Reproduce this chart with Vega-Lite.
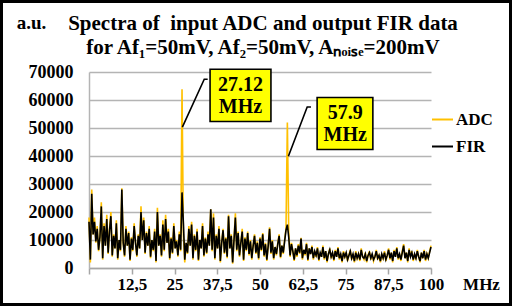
{
  "width": 512,
  "height": 306,
  "autosize": "none",
  "padding": 0,
  "background": "white",
  "config": {
    "view": {"stroke": "black", "strokeWidth": 6},
    "font": "Liberation Serif"
  },
  "title": {
    "text": "Spectra of \u00a0input ADC and output FIR data",
    "subtitle": "for Af₁=50mV, Af₂=50mV, Aₙₒᵢₛₑ=200mV",
    "font": "Liberation Serif", "fontSize": 21, "fontWeight": "bold", "color": "black",
    "subtitleFont": "Liberation Serif", "subtitleFontSize": 21, "subtitleFontWeight": "bold", "subtitleColor": "black",
    "subtitlePadding": 3, "anchor": "middle", "frame": "group", "offset": -58, "dx": 7
  },
  "datasets": {
    "spec": [
      {"f":0,"adc":18000,"fir":16500},{"f":0.4,"adc":2000,"fir":3000},{"f":0.8,"adc":28000,"fir":26500},{"f":1.2,"adc":12000,"fir":12000},{"f":1.6,"adc":18000,"fir":16500},
      {"f":2.0,"adc":9000,"fir":9500},{"f":2.4,"adc":15000,"fir":14000},{"f":2.8,"adc":6000,"fir":6500},{"f":3.2,"adc":11000,"fir":11000},{"f":3.6,"adc":23500,"fir":22000},
      {"f":4.0,"adc":3000,"fir":3500},{"f":4.4,"adc":16000,"fir":15000},{"f":4.8,"adc":8000,"fir":8000},{"f":5.2,"adc":19000,"fir":17500},{"f":5.6,"adc":5000,"fir":5500},
      {"f":6.0,"adc":14000,"fir":13500},{"f":6.4,"adc":20000,"fir":18500},{"f":6.8,"adc":4000,"fir":4500},{"f":7.2,"adc":12000,"fir":11500},{"f":7.6,"adc":7000,"fir":7000},
      {"f":8.0,"adc":17000,"fir":16000},{"f":8.4,"adc":3000,"fir":3500},{"f":8.8,"adc":10000,"fir":10000},{"f":9.2,"adc":6000,"fir":6500},{"f":9.6,"adc":28500,"fir":28000},
      {"f":10.0,"adc":9000,"fir":9000},{"f":10.4,"adc":4000,"fir":4500},{"f":10.8,"adc":15000,"fir":14000},{"f":11.2,"adc":8000,"fir":8000},{"f":11.6,"adc":13000,"fir":12500},
      {"f":12.0,"adc":2500,"fir":3000},{"f":12.4,"adc":11000,"fir":10500},{"f":12.8,"adc":6000,"fir":6500},{"f":13.2,"adc":16000,"fir":15000},{"f":13.6,"adc":9000,"fir":9000},
      {"f":14.0,"adc":4000,"fir":4500},{"f":14.4,"adc":12000,"fir":11500},{"f":14.8,"adc":7000,"fir":7000},{"f":15.2,"adc":22000,"fir":20000},{"f":15.6,"adc":10000,"fir":10000},
      {"f":16.0,"adc":18000,"fir":17000},{"f":16.4,"adc":5000,"fir":5500},{"f":16.8,"adc":13000,"fir":12500},{"f":17.2,"adc":8000,"fir":8000},{"f":17.6,"adc":15000,"fir":14000},
      {"f":18.0,"adc":3500,"fir":4000},{"f":18.4,"adc":10000,"fir":10000},{"f":18.8,"adc":6000,"fir":6500},{"f":19.2,"adc":14000,"fir":13000},{"f":19.6,"adc":2000,"fir":2500},
      {"f":20.0,"adc":21500,"fir":20000},{"f":20.4,"adc":8000,"fir":8000},{"f":20.8,"adc":12000,"fir":11500},{"f":21.2,"adc":4000,"fir":4500},{"f":21.6,"adc":17000,"fir":15500},
      {"f":22.0,"adc":6000,"fir":6500},{"f":22.4,"adc":19000,"fir":17500},{"f":22.8,"adc":9000,"fir":9000},{"f":23.2,"adc":14000,"fir":13000},{"f":23.6,"adc":3000,"fir":3500},
      {"f":24.0,"adc":11000,"fir":10500},{"f":24.4,"adc":5000,"fir":5500},{"f":24.8,"adc":16000,"fir":15000},{"f":25.2,"adc":7000,"fir":7000},{"f":25.6,"adc":10000,"fir":9500},
      {"f":26.0,"adc":4000,"fir":4500},{"f":26.4,"adc":13000,"fir":12000},{"f":26.8,"adc":6000,"fir":6500},{"f":27.2,"adc":63800,"fir":27000},{"f":27.6,"adc":12000,"fir":16000},
      {"f":28.0,"adc":2000,"fir":3000},{"f":28.4,"adc":9000,"fir":9000},{"f":28.8,"adc":5000,"fir":5500},{"f":29.2,"adc":15000,"fir":14000},{"f":29.6,"adc":8000,"fir":8000},
      {"f":30.0,"adc":16500,"fir":15500},{"f":30.4,"adc":3000,"fir":3500},{"f":30.8,"adc":12000,"fir":11500},{"f":31.2,"adc":6000,"fir":6500},{"f":31.6,"adc":14000,"fir":13000},
      {"f":32.0,"adc":2500,"fir":3000},{"f":32.4,"adc":10000,"fir":10000},{"f":32.8,"adc":7000,"fir":7000},{"f":33.2,"adc":16000,"fir":15000},{"f":33.6,"adc":4000,"fir":4500},
      {"f":34.0,"adc":11000,"fir":10500},{"f":34.4,"adc":5000,"fir":5500},{"f":34.8,"adc":13000,"fir":12000},{"f":35.2,"adc":8000,"fir":8000},{"f":35.6,"adc":21000,"fir":21000},
      {"f":36.0,"adc":6000,"fir":6500},{"f":36.4,"adc":19500,"fir":18000},{"f":36.8,"adc":3000,"fir":3500},{"f":37.2,"adc":12000,"fir":11500},{"f":37.6,"adc":7000,"fir":7000},
      {"f":38.0,"adc":15000,"fir":14000},{"f":38.4,"adc":2000,"fir":2500},{"f":38.8,"adc":9000,"fir":9000},{"f":39.2,"adc":14000,"fir":13500},{"f":39.6,"adc":5000,"fir":5500},
      {"f":40.0,"adc":11000,"fir":10500},{"f":40.4,"adc":3500,"fir":4000},{"f":40.8,"adc":19000,"fir":18500},{"f":41.2,"adc":7000,"fir":7000},{"f":41.6,"adc":12000,"fir":11500},
      {"f":42.0,"adc":1500,"fir":2000},{"f":42.4,"adc":10000,"fir":10000},{"f":42.8,"adc":19500,"fir":18000},{"f":43.2,"adc":6000,"fir":6500},{"f":43.6,"adc":13000,"fir":12500},
      {"f":44.0,"adc":4000,"fir":4500},{"f":44.4,"adc":9000,"fir":9000},{"f":44.8,"adc":14000,"fir":13000},{"f":45.2,"adc":2500,"fir":3000},{"f":45.6,"adc":11000,"fir":10500},
      {"f":46.0,"adc":6000,"fir":6500},{"f":46.4,"adc":13000,"fir":12500},{"f":46.8,"adc":4500,"fir":5000},{"f":47.2,"adc":10000,"fir":9500},{"f":47.6,"adc":3000,"fir":3500},
      {"f":48.0,"adc":8000,"fir":8000},{"f":48.4,"adc":12000,"fir":11500},{"f":48.8,"adc":5000,"fir":5500},{"f":49.2,"adc":9500,"fir":9000},{"f":49.6,"adc":3000,"fir":3500},
      {"f":50.0,"adc":11000,"fir":10500},{"f":50.4,"adc":6000,"fir":6500},{"f":50.8,"adc":12500,"fir":12000},{"f":51.2,"adc":4000,"fir":4500},{"f":51.6,"adc":9000,"fir":8500},
      {"f":52.0,"adc":2500,"fir":3000},{"f":52.4,"adc":8000,"fir":8000},{"f":52.8,"adc":14500,"fir":14000},{"f":53.2,"adc":5000,"fir":5500},{"f":53.6,"adc":10000,"fir":9500},
      {"f":54.0,"adc":3000,"fir":3500},{"f":54.4,"adc":7500,"fir":7500},{"f":54.8,"adc":4500,"fir":5000},{"f":55.2,"adc":9000,"fir":8500},{"f":55.6,"adc":12000,"fir":11500},
      {"f":56.0,"adc":3500,"fir":4000},{"f":56.4,"adc":8000,"fir":8000},{"f":56.8,"adc":5000,"fir":5500},{"f":57.2,"adc":10000,"fir":9500},{"f":57.6,"adc":14000,"fir":13500},
      {"f":58.0,"adc":52000,"fir":15500},{"f":58.4,"adc":13000,"fir":11000},{"f":58.8,"adc":4000,"fir":4500},{"f":59.2,"adc":9000,"fir":8500},{"f":59.6,"adc":6000,"fir":6000},
      {"f":60.0,"adc":2500,"fir":3000},{"f":60.4,"adc":7000,"fir":7000},{"f":60.8,"adc":4000,"fir":4500},{"f":61.2,"adc":8500,"fir":8000},{"f":61.6,"adc":5000,"fir":5500},
      {"f":62.0,"adc":10800,"fir":10500},{"f":62.4,"adc":3000,"fir":3500},{"f":62.8,"adc":6500,"fir":6500},{"f":63.2,"adc":4500,"fir":5000},{"f":63.6,"adc":9000,"fir":8500},
      {"f":64.0,"adc":2500,"fir":3000},{"f":64.4,"adc":7000,"fir":7000},{"f":64.8,"adc":5000,"fir":5000},{"f":65.2,"adc":8000,"fir":7500},{"f":65.6,"adc":3000,"fir":3500},
      {"f":66.0,"adc":6000,"fir":6000},{"f":66.4,"adc":4000,"fir":4500},{"f":66.8,"adc":7500,"fir":7000},{"f":67.2,"adc":2500,"fir":3000},{"f":67.6,"adc":5500,"fir":5500},
      {"f":68.0,"adc":4000,"fir":4000},{"f":68.4,"adc":8000,"fir":7500},{"f":68.8,"adc":3000,"fir":3500},{"f":69.2,"adc":6000,"fir":6000},{"f":69.6,"adc":2000,"fir":2500},
      {"f":70.0,"adc":5000,"fir":5000},{"f":70.4,"adc":7000,"fir":6500},{"f":70.8,"adc":3500,"fir":4000},{"f":71.2,"adc":5500,"fir":5500},{"f":71.6,"adc":2500,"fir":3000},
      {"f":72.0,"adc":6500,"fir":6000},{"f":72.4,"adc":4000,"fir":4000},{"f":72.8,"adc":7500,"fir":7000},{"f":73.2,"adc":3000,"fir":3500},{"f":73.6,"adc":5000,"fir":5000},
      {"f":74.0,"adc":2000,"fir":2500},{"f":74.4,"adc":6000,"fir":5500},{"f":74.8,"adc":4000,"fir":4000},{"f":75.2,"adc":5500,"fir":5500},{"f":75.6,"adc":2500,"fir":3000},
      {"f":76.0,"adc":4500,"fir":4500},{"f":76.4,"adc":6500,"fir":6000},{"f":76.8,"adc":3000,"fir":3500},{"f":77.2,"adc":5000,"fir":5000},{"f":77.6,"adc":2000,"fir":2500},
      {"f":78.0,"adc":6000,"fir":5500},{"f":78.4,"adc":3500,"fir":3500},{"f":78.8,"adc":5000,"fir":5000},{"f":79.2,"adc":2500,"fir":3000},{"f":79.6,"adc":7000,"fir":6500},
      {"f":80.0,"adc":4000,"fir":4000},{"f":80.4,"adc":3000,"fir":3500},{"f":80.8,"adc":5500,"fir":5000},{"f":81.2,"adc":2000,"fir":2500},{"f":81.6,"adc":4500,"fir":4500},
      {"f":82.0,"adc":6000,"fir":5500},{"f":82.4,"adc":3000,"fir":3500},{"f":82.8,"adc":5000,"fir":5000},{"f":83.2,"adc":2500,"fir":3000},{"f":83.6,"adc":4000,"fir":4000},
      {"f":84.0,"adc":6500,"fir":6000},{"f":84.4,"adc":3000,"fir":3500},{"f":84.8,"adc":4500,"fir":4500},{"f":85.2,"adc":2000,"fir":2500},{"f":85.6,"adc":5000,"fir":5000},
      {"f":86.0,"adc":3500,"fir":3500},{"f":86.4,"adc":6000,"fir":5500},{"f":86.8,"adc":2500,"fir":3000},{"f":87.2,"adc":4500,"fir":4500},{"f":87.6,"adc":7000,"fir":6500},
      {"f":88.0,"adc":3000,"fir":3500},{"f":88.4,"adc":5500,"fir":5500},{"f":88.8,"adc":2000,"fir":2500},{"f":89.2,"adc":6500,"fir":6000},{"f":89.6,"adc":4000,"fir":4000},
      {"f":90.0,"adc":7500,"fir":7000},{"f":90.4,"adc":3000,"fir":3500},{"f":90.8,"adc":5000,"fir":5000},{"f":91.2,"adc":2500,"fir":3000},{"f":91.6,"adc":6000,"fir":5500},
      {"f":92.0,"adc":8500,"fir":8000},{"f":92.4,"adc":3500,"fir":3500},{"f":92.8,"adc":5500,"fir":5500},{"f":93.2,"adc":2000,"fir":2500},{"f":93.6,"adc":7000,"fir":6500},
      {"f":94.0,"adc":4000,"fir":4000},{"f":94.4,"adc":6000,"fir":5500},{"f":94.8,"adc":2500,"fir":3000},{"f":95.2,"adc":5000,"fir":5000},{"f":95.6,"adc":3000,"fir":3500},
      {"f":96.0,"adc":6500,"fir":6000},{"f":96.4,"adc":4000,"fir":4000},{"f":96.8,"adc":2000,"fir":2500},{"f":97.2,"adc":5500,"fir":5500},{"f":97.6,"adc":3500,"fir":3500},
      {"f":98.0,"adc":6500,"fir":6000},{"f":98.4,"adc":2500,"fir":3000},{"f":98.8,"adc":5000,"fir":5000},{"f":99.2,"adc":3500,"fir":3500},{"f":99.6,"adc":6000,"fir":5500},
      {"f":100.0,"adc":8000,"fir":7500}
    ],
    "boxes": [
      {"f":35.4,"f2":53.2,"v":71000,"v2":52300,"fc":44.3,"vc":61600,"label":"27.12\nMHz"},
      {"f":66.7,"f2":83.0,"v":60900,"v2":42300,"fc":74.9,"vc":51600,"label":"57.9\nMHz"}
    ],
    "leaders": [
      {"g":1,"o":1,"f":27.3,"v":50300},{"g":1,"o":2,"f":33.7,"v":67400},{"g":1,"o":3,"f":34.7,"v":67400},
      {"g":2,"o":1,"f":58.3,"v":39900},{"g":2,"o":2,"f":63.8,"v":57500},{"g":2,"o":3,"f":64.9,"v":57500}
    ]
  },
  "layer": [
    {
      "data": {"name": "spec"},
      "mark": {"type": "line", "strokeWidth": 1.6, "clip": false},
      "encoding": {
        "x": {"field": "f", "type": "quantitative",
          "scale": {"domain": [0, 100], "range": [89, 431], "nice": false, "zero": false},
          "axis": {"title": "MHz", "orient": "bottom", "offset": -38,
            "values": [0, 12.5, 25, 37.5, 50, 62.5, 75, 87.5, 100],
            "labelExpr": "datum.value == 0 ? '' : replace(datum.value + '', '.', ',')",
            "grid": false, "ticks": true, "tickSize": 6, "tickColor": "#a6a6a6", "tickWidth": 1.5,
            "domainColor": "#a6a6a6", "domainWidth": 1.5,
            "labelFont": "Liberation Serif", "labelFontSize": 17, "labelFontWeight": "bold", "labelColor": "black", "labelPadding": 2,
            "labelFlush": false, "labelOverlap": false,
            "titleFont": "Liberation Serif", "titleFontSize": 17, "titleFontWeight": "bold", "titleColor": "black",
            "titleX": 481, "titleY": 21, "titleAlign": "center", "titleBaseline": "alphabetic", "titleAnchor": null}},
        "y": {"field": "adc", "type": "quantitative",
          "scale": {"domain": [0, 70000], "range": [268, 72], "nice": false},
          "axis": {"title": "a.u.", "orient": "left", "offset": -89,
            "values": [0, 10000, 20000, 30000, 40000, 50000, 60000, 70000], "format": "d",
            "grid": true, "gridColor": "#b4b4b4", "gridWidth": 1.5, "ticks": false,
            "domainColor": "#b4b4b4", "domainWidth": 1.5,
            "labelFont": "Liberation Serif", "labelFontSize": 18, "labelFontWeight": "bold", "labelColor": "black", "labelPadding": 16,
            "labelOverlap": false, "labelFlush": false,
            "titleFont": "Liberation Serif", "titleFontSize": 19, "titleFontWeight": "bold", "titleColor": "black",
            "titleAngle": 0, "titleX": -58, "titleY": 28, "titleAlign": "center", "titleBaseline": "alphabetic", "titleAnchor": null}},
        "color": {"datum": "ADC", "type": "nominal",
          "scale": {"domain": ["ADC", "FIR"], "range": ["#FFC000", "#000000"]},
          "legend": {"title": null, "orient": "none", "legendX": 431, "legendY": 108,
            "symbolType": "stroke", "symbolSize": 441, "symbolStrokeWidth": 2,
            "labelFont": "Liberation Serif", "labelFontSize": 17, "labelFontWeight": "bold", "labelColor": "black",
            "labelOffset": 2, "rowPadding": 7}}
      }
    },
    {
      "data": {"name": "spec"},
      "mark": {"type": "line", "strokeWidth": 1.6, "clip": false},
      "encoding": {
        "x": {"field": "f", "type": "quantitative"},
        "y": {"field": "fir", "type": "quantitative", "title": "a.u."},
        "color": {"datum": "FIR", "type": "nominal"}
      }
    },
    {
      "data": {"name": "leaders"},
      "mark": {"type": "line", "color": "black", "strokeWidth": 1.6},
      "encoding": {
        "x": {"field": "f", "type": "quantitative"},
        "y": {"field": "v", "type": "quantitative", "title": "a.u."},
        "detail": {"field": "g"},
        "order": {"field": "o"}
      }
    },
    {
      "data": {"name": "boxes"},
      "mark": {"type": "rect", "fill": "#FFFF00", "stroke": "black", "strokeWidth": 1.6},
      "encoding": {
        "x": {"field": "f", "type": "quantitative"},
        "x2": {"field": "f2"},
        "y": {"field": "v", "type": "quantitative", "title": "a.u."},
        "y2": {"field": "v2"}
      }
    },
    {
      "data": {"name": "boxes"},
      "mark": {"type": "text", "font": "Liberation Serif", "fontSize": 20, "fontWeight": "bold", "color": "black",
        "align": "center", "baseline": "middle", "lineBreak": "\n", "lineHeight": 22, "dy": -11},
      "encoding": {
        "x": {"field": "fc", "type": "quantitative"},
        "y": {"field": "vc", "type": "quantitative", "title": "a.u."},
        "text": {"field": "label"}
      }
    }
  ]
}
